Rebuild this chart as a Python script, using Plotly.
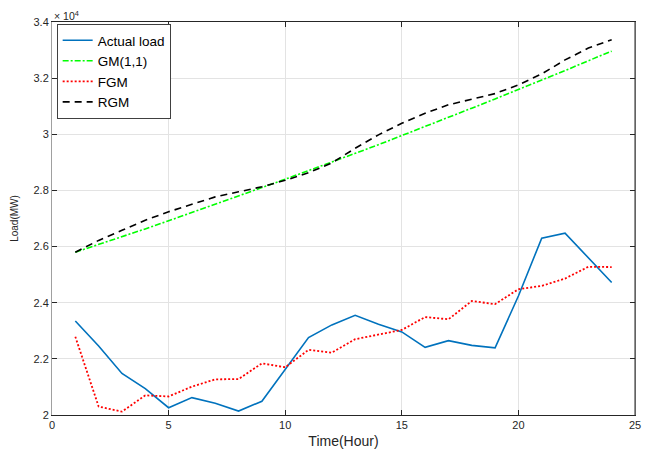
import plotly.graph_objects as go

hours = list(range(1, 25))
actual_load = [2.335, 2.246, 2.148, 2.094, 2.026, 2.062, 2.042, 2.014, 2.049, 2.163,
               2.276, 2.321, 2.355, 2.323, 2.296, 2.241, 2.265, 2.248, 2.239, 2.424,
               2.630, 2.648, 2.561, 2.472]
gm11 = [2.580, 2.607, 2.635, 2.663, 2.692, 2.721, 2.750, 2.780, 2.810, 2.840,
        2.870, 2.901, 2.932, 2.963, 2.995, 3.027, 3.060, 3.093, 3.126, 3.159,
        3.193, 3.227, 3.262, 3.296]
fgm = [2.279, 2.030, 2.012, 2.070, 2.066, 2.101, 2.127, 2.128, 2.184, 2.170,
       2.232, 2.222, 2.270, 2.287, 2.303, 2.349, 2.341, 2.406, 2.395, 2.448,
       2.460, 2.486, 2.528, 2.527]
rgm = [2.580, 2.622, 2.658, 2.694, 2.724, 2.751, 2.777, 2.795, 2.813, 2.836,
       2.863, 2.898, 2.950, 2.998, 3.039, 3.075, 3.105, 3.125, 3.145, 3.176,
       3.215, 3.265, 3.307, 3.337]

x_ticks = [0, 5, 10, 15, 20, 25]
y_ticks = [2, 2.2, 2.4, 2.6, 2.8, 3, 3.2, 3.4]
y_tick_text = ["2", "2.2", "2.4", "2.6", "2.8", "3", "3.2", "3.4"]

FONT = "Liberation Sans, Arial, Helvetica"

fig = go.Figure()
fig.add_trace(go.Scatter(x=hours, y=actual_load, mode="lines", name="Actual load",
                         line=dict(color="#0072BD", width=1.6)))
fig.add_trace(go.Scatter(x=hours, y=gm11, mode="lines", name="GM(1,1)",
                         line=dict(color="#00FF00", width=1.6, dash="6px,2px,2px,2px")))
fig.add_trace(go.Scatter(x=hours, y=fgm, mode="lines", name="FGM",
                         line=dict(color="#FF0000", width=1.8, dash="2px,2px")))
fig.add_trace(go.Scatter(x=hours, y=rgm, mode="lines", name="RGM",
                         line=dict(color="#000000", width=1.6, dash="7px,5px")))

axis_common = dict(
    showgrid=True, gridcolor="#E3E3E3", gridwidth=1,
    showline=True, linewidth=1, mirror="ticks",
    ticks="inside", ticklen=5, tickcolor="#262626",
    tickfont=dict(family=FONT, size=11, color="#262626"),
    zeroline=False, ticklabeloverflow="allow",
)

fig.update_layout(
    width=646, height=451,
    margin=dict(l=52, r=5, t=22, b=35),
    paper_bgcolor="white", plot_bgcolor="white",
    font=dict(family=FONT, size=11, color="#262626"),
    xaxis=dict(range=[0, 25], tickvals=x_ticks, linecolor="#262626",
               title=dict(text="Time(Hour)", standoff=5,
                          font=dict(family=FONT, size=14, color="#262626")),
               **axis_common),
    yaxis=dict(range=[2, 3.4], tickvals=y_ticks, ticktext=y_tick_text,
               linecolor="#A0A0A0",
               title=dict(text="Load(MW)", standoff=13,
                          font=dict(family=FONT, size=10, color="#262626")),
               **axis_common),
    legend=dict(x=0.008, y=0.995, xanchor="left", yanchor="top",
                bgcolor="white", bordercolor="#404040", borderwidth=1,
                font=dict(family=FONT, size=13.5, color="#000000"),
                tracegroupgap=0, itemwidth=30),
    showlegend=True,
)

# black right border of the axes box
fig.add_shape(type="line", xref="paper", yref="paper", x0=1, x1=1, y0=0, y1=1,
              line=dict(color="#262626", width=1))

fig.add_annotation(text="× 10<sup>4</sup>", xref="paper", yref="paper",
                   x=0, y=1, xanchor="left", yanchor="bottom", yshift=-2, showarrow=False,
                   font=dict(family=FONT, size=10.5, color="#262626"))

fig.write_html("out.html", config={"displayModeBar": False},
               post_script="document.body.style.margin='0';")
